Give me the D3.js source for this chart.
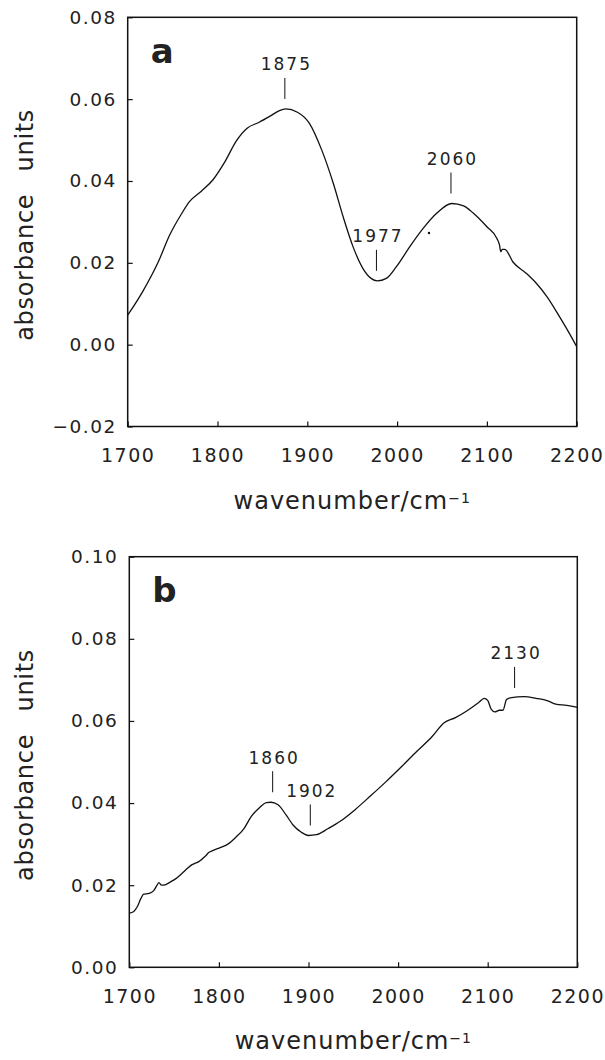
<!DOCTYPE html>
<html>
<head>
<meta charset="utf-8">
<script src="https://cdn.jsdelivr.net/npm/d3@7"></script>
<style>
  html, body { margin: 0; padding: 0; background: #fff; }
  svg { display: block; }
  text { font-family: "DejaVu Sans", sans-serif; fill: #222; }
</style>
</head>
<body>
<div id="chart"></div>
<script>
// ---------- data ----------
const xTicks = [1700, 1800, 1900, 2000, 2100, 2200];
const yTicksA = [-0.02, 0.00, 0.02, 0.04, 0.06, 0.08];
const yTicksB = [0.00, 0.02, 0.04, 0.06, 0.08, 0.10];

const waveA = [1700, 1717, 1734, 1747, 1760, 1769, 1782, 1795, 1808, 1821, 1833, 1846, 1859, 1869, 1876, 1889, 1902, 1916, 1929, 1940, 1951, 1962, 1971, 1978, 1988, 1999, 2014, 2029, 2044, 2061, 2074, 2085, 2100, 2111, 2114, 2115.5, 2117, 2120, 2129, 2144, 2155, 2167, 2181, 2192, 2200];
const absA  = [0.0072, 0.0131, 0.0202, 0.0269, 0.0320, 0.0350, 0.0375, 0.0403, 0.0446, 0.0498, 0.0529, 0.0543, 0.0559, 0.0572, 0.0576, 0.0568, 0.0542, 0.0476, 0.0394, 0.0312, 0.0239, 0.0186, 0.0162, 0.0156, 0.0162, 0.0190, 0.0239, 0.0284, 0.0321, 0.0345, 0.0339, 0.0321, 0.0288, 0.0260, 0.0244, 0.0227, 0.0233, 0.0233, 0.0202, 0.0174, 0.0150, 0.0117, 0.0068, 0.0027, -0.0005];

const waveB = [1700, 1705, 1709, 1713, 1716, 1722, 1727, 1731, 1733, 1736, 1740, 1746, 1752, 1759, 1765, 1770, 1773, 1778, 1785, 1789, 1793, 1802, 1810, 1819, 1828, 1836, 1845, 1853, 1858, 1866, 1875, 1883, 1892, 1900, 1909, 1922, 1935, 1952, 1969, 1986, 2004, 2021, 2038, 2051, 2064, 2077, 2090, 2096, 2100, 2104, 2108, 2113, 2117, 2121, 2125, 2141, 2154, 2167, 2176, 2188, 2200];
const absB  = [0.0132, 0.0136, 0.0148, 0.0168, 0.0178, 0.0180, 0.0186, 0.0200, 0.0206, 0.0200, 0.0201, 0.0208, 0.0216, 0.0229, 0.0241, 0.0250, 0.0253, 0.0258, 0.0271, 0.0280, 0.0284, 0.0292, 0.0300, 0.0317, 0.0338, 0.0367, 0.0388, 0.0401, 0.0402, 0.0396, 0.0371, 0.0346, 0.0329, 0.0321, 0.0323, 0.0338, 0.0355, 0.0384, 0.0417, 0.0451, 0.0489, 0.0526, 0.0562, 0.0595, 0.0608, 0.0625, 0.0645, 0.0655, 0.0650, 0.0628, 0.0622, 0.0626, 0.0626, 0.0652, 0.0656, 0.0659, 0.0655, 0.0649, 0.0641, 0.0638, 0.0633];

const peaksA = [1875, 1977, 2060];
const peakValA = [0.0576, 0.0156, 0.0345];
const peaksB = [1860, 1902, 2130];
const peakValB = [0.0402, 0.0321, 0.0656];

const strayA = [[2035.5, 0.0273]];

// ---------- drawing ----------
const W = 605, H = 1060;
const svg = d3.select("#chart").append("svg").attr("width", W).attr("height", H);
const fmt = d3.format(".2f");

function panel(cfg) {
  const x = d3.scaleLinear().domain([1700, 2200]).range([cfg.left, cfg.right]);
  const y = d3.scaleLinear().domain(cfg.yDomain).range([cfg.bottom, cfg.top]);
  const g = svg.append("g");

  // x axis (inward ticks)
  const gx = g.append("g").attr("transform", `translate(0,${cfg.bottom})`)
    .call(d3.axisBottom(x).tickValues(xTicks).tickSize(-5).tickPadding(22).tickFormat(d3.format("d")));
  gx.select(".domain").remove();
  gx.selectAll("line").attr("stroke", "#111").attr("stroke-width", 1.2);
  gx.selectAll("text").attr("font-size", 19).attr("letter-spacing", 1.5)
    .attr("font-family", "DejaVu Sans").attr("fill", "#222");

  // y axis
  const gy = g.append("g").attr("transform", `translate(${cfg.left},0)`)
    .call(d3.axisLeft(y).tickValues(cfg.yTicks).tickSize(-5).tickPadding(11).tickFormat(fmt));
  gy.select(".domain").remove();
  gy.selectAll("line").attr("stroke", "#111").attr("stroke-width", 1.2);
  gy.selectAll("text").attr("font-size", 18.5).attr("letter-spacing", 1.5)
    .attr("font-family", "DejaVu Sans").attr("fill", "#222");

  // frame
  g.append("rect").attr("x", cfg.left).attr("y", cfg.top)
    .attr("width", cfg.right - cfg.left).attr("height", cfg.bottom - cfg.top)
    .attr("fill", "none").attr("stroke", "#111").attr("stroke-width", 1.5);

  // spectrum
  const pts = cfg.wave.map((w, i) => [w, cfg.abs[i]]);
  const line = d3.line().x(d => x(d[0])).y(d => y(d[1])).curve(d3.curveMonotoneX);
  g.append("path").datum(pts).attr("d", line)
    .attr("fill", "none").attr("stroke", "#111").attr("stroke-width", 1.3)
    .attr("stroke-linejoin", "round");

  // peak annotations
  cfg.peaks.forEach((p, i) => {
    const yb = y(cfg.peakVal[i]) - 10;
    const yt = yb - 21;
    g.append("line").attr("x1", x(p)).attr("x2", x(p)).attr("y1", yb).attr("y2", yt)
      .attr("stroke", "#111").attr("stroke-width", 1);
    g.append("text").attr("x", x(p) + 1.5).attr("y", yt - 7.5)
      .attr("text-anchor", "middle").attr("font-size", 17).attr("letter-spacing", 2)
      .text(p);
  });

  // stray points
  (cfg.stray || []).forEach(s => {
    g.append("circle").attr("cx", x(s[0])).attr("cy", y(s[1])).attr("r", 1.2).attr("fill", "#111");
  });

  // panel letter
  g.append("text").attr("x", cfg.left + 23).attr("y", cfg.top + 45.5)
    .attr("font-family", "Liberation Sans, Arial, sans-serif").attr("font-weight", "bold")
    .attr("font-size", 34).attr("fill", "#000").text(cfg.letter);

  // axis titles
  const xt = g.append("text").attr("x", (cfg.left + cfg.right) / 2).attr("y", cfg.bottom + 82)
    .attr("text-anchor", "middle").attr("font-size", 24).attr("letter-spacing", 1);
  xt.append("tspan").text("wavenumber/cm");
  xt.append("tspan").attr("font-size", 14).attr("dy", -6).text("\u22121");

  g.append("text")
    .attr("transform", `translate(33,${(cfg.top + cfg.bottom) / 2 + 3}) rotate(-90)`)
    .attr("text-anchor", "middle").attr("font-size", 24).attr("letter-spacing", 0.7)
    .attr("word-spacing", 14)
    .text("absorbance units");
}

panel({ left: 127.7, right: 576.7, top: 17.3, bottom: 426.5, yDomain: [-0.02, 0.08], yTicks: yTicksA,
        wave: waveA, abs: absA, peaks: peaksA, peakVal: peakValA, stray: strayA, letter: "a" });
panel({ left: 129.3, right: 577.3, top: 556.7, bottom: 967.3, yDomain: [0.00, 0.10], yTicks: yTicksB,
        wave: waveB, abs: absB, peaks: peaksB, peakVal: peakValB, letter: "b" });
</script>
</body>
</html>
